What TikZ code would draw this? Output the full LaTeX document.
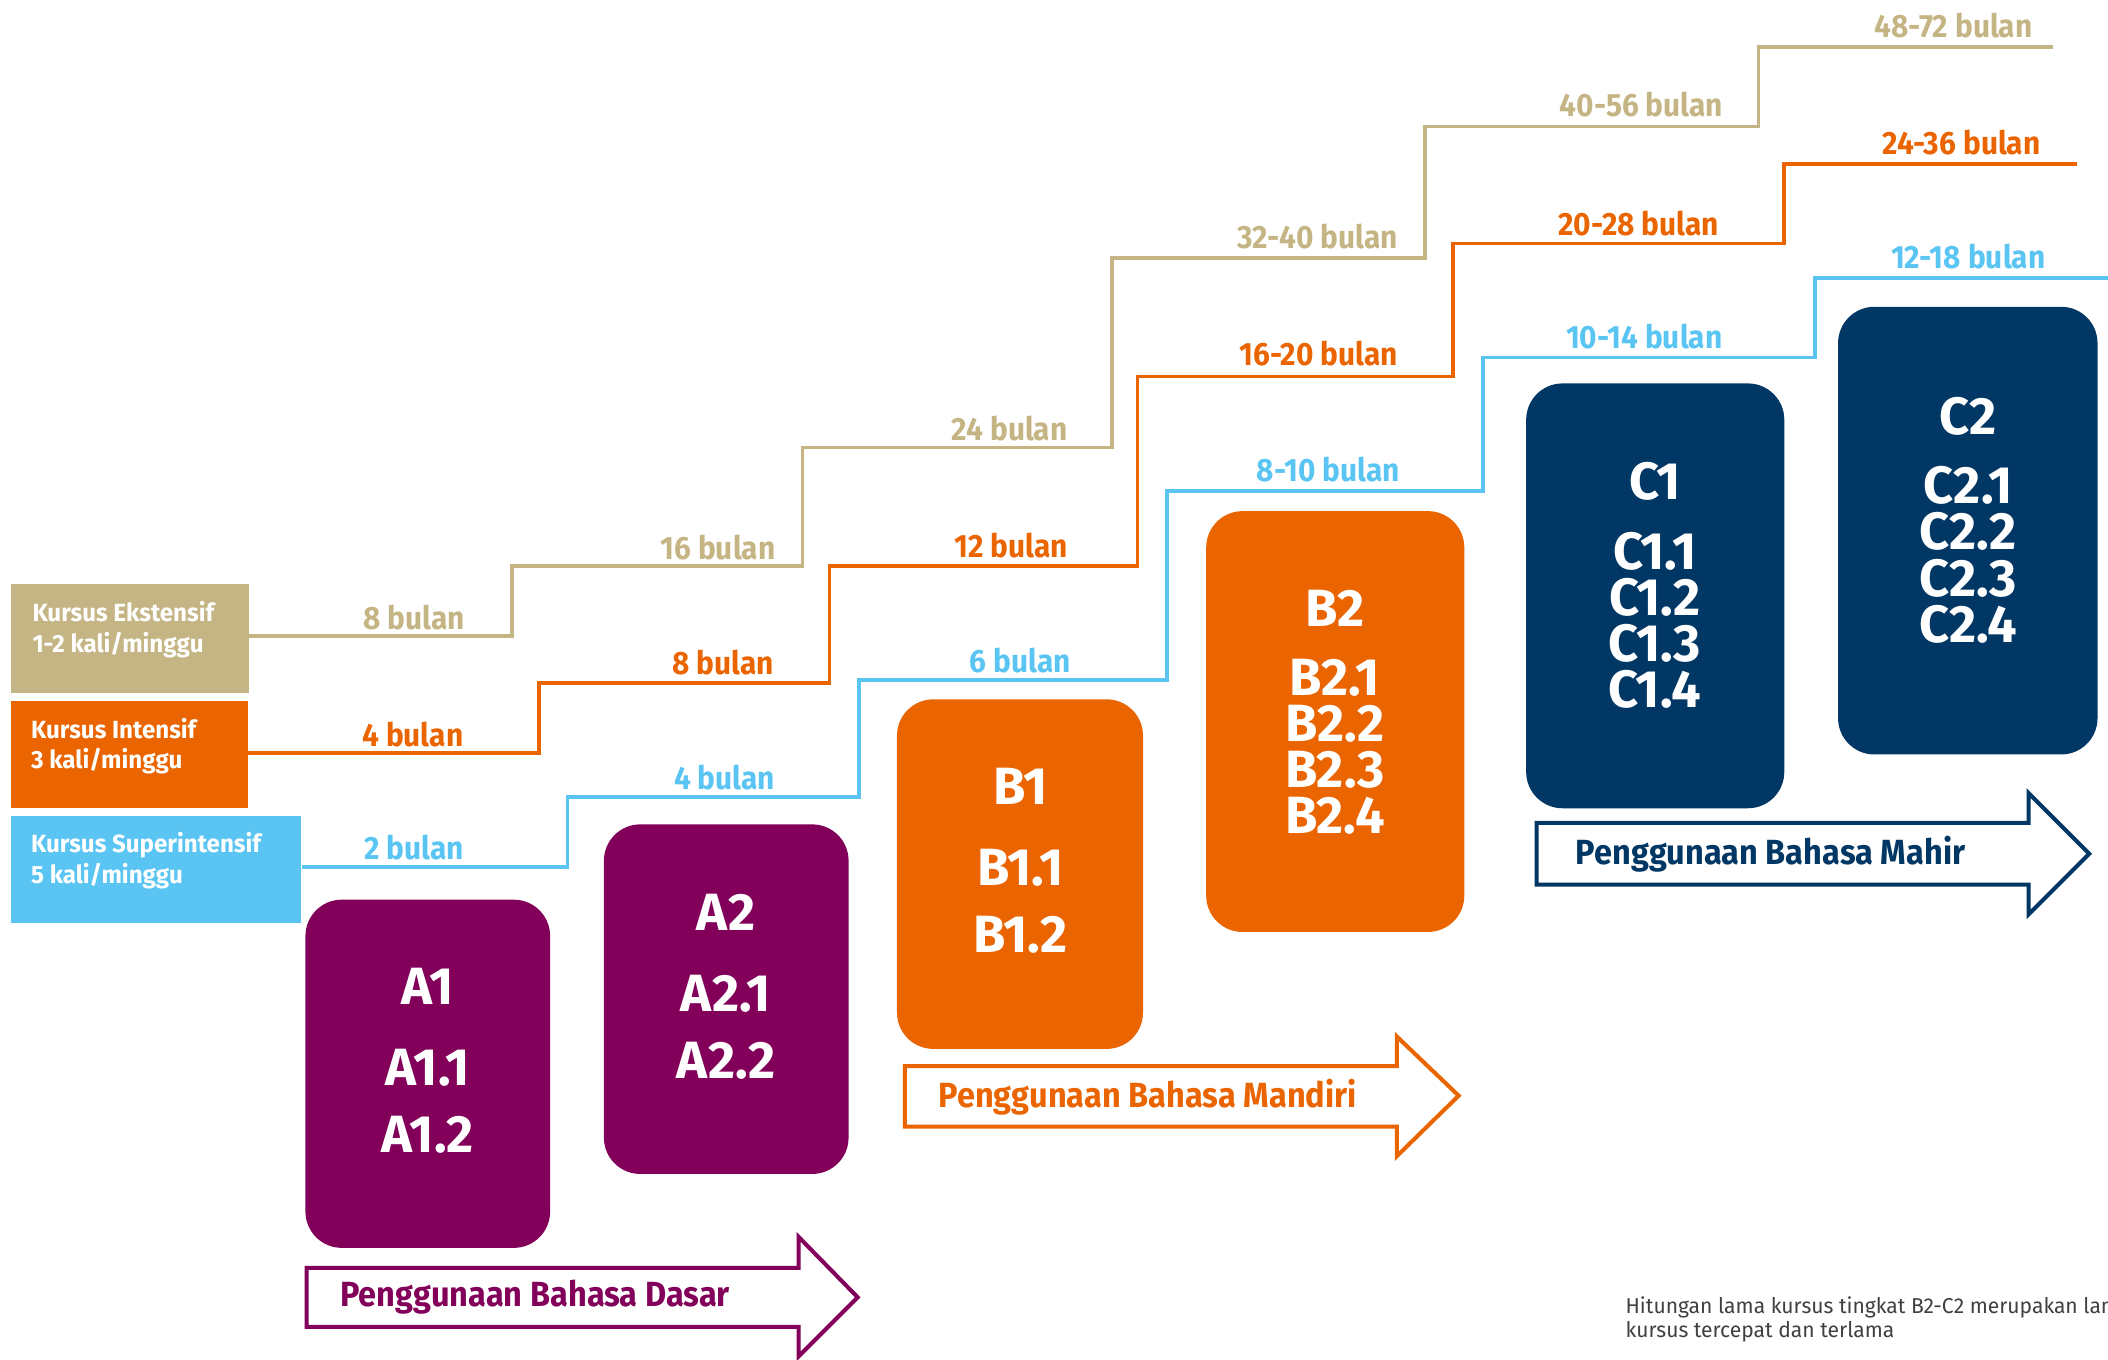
\documentclass[tikz,border=0pt]{standalone}
\usepackage{fontspec}
\setmainfont{Fira Sans}
\newfontfamily\legendfont{Fira Sans}[FakeStretch=0.97]
\newfontfamily\durfont{Fira Sans}[FakeStretch=0.925]
\newfontfamily\arrowfont{Fira Sans}[FakeStretch=0.93]
\newfontfamily\notefont{Fira Sans}[FakeStretch=0.98]
\definecolor{tanc}{HTML}{C5B584}
\definecolor{orangec}{HTML}{EA6500}
\definecolor{bluec}{HTML}{5AC4F3}
\definecolor{purplec}{HTML}{820059}
\definecolor{navyc}{HTML}{003764}
\tikzset{
  legendbox/.style={fill=#1,draw=none,inner sep=0pt,anchor=north west},
  legendtext/.style={text=white,font=\legendfont\bfseries\fontsize{18.5}{18.5}\selectfont,anchor=base west,inner sep=0pt},
  stair/.style={draw=#1,line width=2.7pt,line join=miter},
  dur/.style={text=#1,font=\durfont\bfseries\fontsize{24}{24}\selectfont,anchor=base,inner sep=0pt},
  level/.style={fill=#1,rounded corners=27pt,inner sep=0pt,anchor=north west},
  lvltext/.style={text=white,font=\bfseries\fontsize{39}{39}\selectfont,anchor=base,inner sep=0pt},
  bigarrow/.style={draw=#1,line width=3pt,line join=miter,fill=white},
  arrowtext/.style={text=#1,font=\arrowfont\bfseries\fontsize{26}{26}\selectfont,anchor=base west,inner sep=0pt},
  footnote/.style={text=black!75,font=\notefont\fontsize{16}{16}\selectfont,anchor=base west,inner sep=0pt}
}
\begin{document}
\begin{tikzpicture}[x=1pt,y=-1pt]
\useasboundingbox (0,0) rectangle (1568,1010.9);
\clip (0,0) rectangle (1568,1010.9);
% legend
\node[legendbox=tanc,minimum width=177pt,minimum height=81pt] (ext) at (8,434) {};
\node[legendbox=orangec,minimum width=176pt,minimum height=80pt] (int) at (8,521) {};
\node[legendbox=bluec,minimum width=216pt,minimum height=79pt] (sup) at (8,607) {};
\node[legendtext] (ext1) at (24,462) {Kursus Ekstensif};
\node[legendtext] (ext2) at (24,485) {1-2 kali/minggu};
\node[legendtext] (int1) at (23,549) {Kursus Intensif};
\node[legendtext] (int2) at (23,572) {3 kali/minggu};
\node[legendtext] (sup1) at (23,634) {Kursus Superintensif};
\node[legendtext] (sup2) at (23,657) {5 kali/minggu};
% stairs
\coordinate (tanend) at (1527,35);
\coordinate (orangeend) at (1545,122);
\coordinate (blueend) at (1568,207);
\draw[stair=tanc] (ext.east |- 0,473) -- (381,473) -- (381,421) -- (597,421) -- (597,333) -- (827,333) -- (827,192) -- (1060,192) -- (1060,94) -- (1308,94) -- (1308,35) -- (tanend);
\draw[stair=orangec] (int.east |- 0,560) -- (401,560) -- (401,508) -- (617,508) -- (617,421) -- (846,421) -- (846,280) -- (1081,280) -- (1081,181) -- (1327,181) -- (1327,122) -- (orangeend);
\draw[stair=bluec] (sup.east |- 0,645) -- (422,645) -- (422,593) -- (639,593) -- (639,506) -- (868,506) -- (868,365) -- (1103,365) -- (1103,266) -- (1350,266) -- (1350,207) -- (blueend);
% duration labels
\node[dur=tanc] (t1) at (308,468) {8 bulan};
\node[dur=tanc] (t2) at (534,416) {16 bulan};
\node[dur=tanc] (t3) at (751,328) {24 bulan};
\node[dur=tanc] (t4) at (980,185) {32-40 bulan};
\node[dur=tanc] (t5) at (1221,87) {40-56 bulan};
\node[dur=tanc] (t6) at (1453,28) {48-72 bulan};
\node[dur=orangec] (o1) at (307,555) {4 bulan};
\node[dur=orangec] (o2) at (538,502) {8 bulan};
\node[dur=orangec] (o3) at (752,415) {12 bulan};
\node[dur=orangec] (o4) at (981,272) {16-20 bulan};
\node[dur=orangec] (o5) at (1219,175) {20-28 bulan};
\node[dur=orangec] (o6) at (1459,115) {24-36 bulan};
\node[dur=bluec] (b1) at (308,639) {2 bulan};
\node[dur=bluec] (b2) at (539,587) {4 bulan};
\node[dur=bluec] (b3) at (759,500) {6 bulan};
\node[dur=bluec] (b4) at (988,358) {8-10 bulan};
\node[dur=bluec] (b5) at (1223,259) {10-14 bulan};
\node[dur=bluec] (b6) at (1464,200) {12-18 bulan};
% level boxes
\node[level=purplec,minimum width=182pt,minimum height=259pt] (A1) at (227,669) {};
\node[level=purplec,minimum width=182pt,minimum height=260pt] (A2) at (449,613) {};
\node[level=orangec,minimum width=183pt,minimum height=260pt] (B1) at (667,520) {};
\node[level=orangec,minimum width=192pt,minimum height=313pt] (B2) at (897,380) {};
\node[level=navyc,minimum width=192pt,minimum height=316pt] (C1) at (1135,285) {};
\node[level=navyc,minimum width=193pt,minimum height=333pt] (C2) at (1367,228) {};
\node[lvltext] (a1h) at (318,747.5) {A1};
\node[lvltext] (a11) at (318,807.5) {A1.1};
\node[lvltext] (a12) at (318,857.5) {A1.2};
\node[lvltext] (a2h) at (540,692.5) {A2};
\node[lvltext] (a21) at (540,752.5) {A2.1};
\node[lvltext] (a22) at (540,802.5) {A2.2};
\node[lvltext] (b1h) at (759,598.5) {B1};
\node[lvltext] (b11) at (759,658.5) {B1.1};
\node[lvltext] (b12) at (759,708.5) {B1.2};
\node[lvltext] (b2h) at (993,466) {B2};
\node[lvltext] (b21) at (993,517) {B2.1};
\node[lvltext] (b22) at (993,551.5) {B2.2};
\node[lvltext] (b23) at (993,586) {B2.3};
\node[lvltext] (b24) at (993,620) {B2.4};
\node[lvltext] (c1h) at (1231,371.5) {C1};
\node[lvltext] (c11) at (1231,423.5) {C1.1};
\node[lvltext] (c12) at (1231,458) {C1.2};
\node[lvltext] (c13) at (1231,492) {C1.3};
\node[lvltext] (c14) at (1231,526) {C1.4};
\node[lvltext] (c2h) at (1464,323.5) {C2};
\node[lvltext] (c21) at (1464,374.5) {C2.1};
\node[lvltext] (c22) at (1464,408.5) {C2.2};
\node[lvltext] (c23) at (1464,443.5) {C2.3};
\node[lvltext] (c24) at (1464,478) {C2.4};
% arrows
\draw[bigarrow=purplec] (228,943) -- (594,943) -- (594,920) -- (638,965) -- (594,1009) -- (594,987) -- (228,987) -- cycle;
\draw[bigarrow=orangec] (673,793) -- (1039,793) -- (1039,771) -- (1085,815) -- (1039,860) -- (1039,838) -- (673,838) -- cycle;
\draw[bigarrow=navyc] (1143,612) -- (1509,612) -- (1509,590) -- (1554,635) -- (1509,680) -- (1509,658) -- (1143,658) -- cycle;
\node[arrowtext=purplec] (adasar) at (253,972) {Penggunaan Bahasa Dasar};
\node[arrowtext=orangec] (amandiri) at (698,824) {Penggunaan Bahasa Mandiri};
\node[arrowtext=navyc] (amahir) at (1172,643) {Penggunaan Bahasa Mahir};
% footnote
\node[footnote] (fn1) at (1209,977) {Hitungan lama kursus tingkat B2-C2 merupakan lama};
\node[footnote] (fn2) at (1209,995) {kursus tercepat dan terlama};
\end{tikzpicture}
\end{document}
